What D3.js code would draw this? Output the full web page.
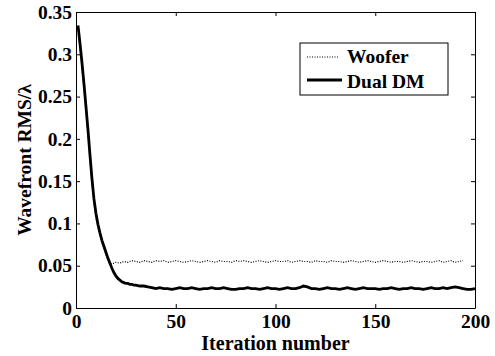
<!DOCTYPE html>
<html>
<head>
<meta charset="utf-8">
<script src="https://cdn.jsdelivr.net/npm/d3@7"></script>
<style>
  body { margin: 0; background: #fff; }
</style>
</head>
<body>
<div id="viz-container"></div>
<script>
const width = 495, height = 356;
const margin = {top: 12, right: 20, bottom: 48, left: 76};
const FONT = "Liberation Serif";

// Axes
const xTicks = [0, 50, 100, 150, 200];
const yTicks = [0, 0.05, 0.1, 0.15, 0.2, 0.25, 0.3, 0.35];

// Dual DM : itérations et valeurs
const dualIter = [1, 2, 3, 4, 5, 6, 7, 8, 9, 10, 11, 12, 13, 14, 15, 16, 17, 18, 19, 20,
  21, 22, 23, 24, 25, 26, 27, 28, 29, 30, 32, 34, 36, 38, 40, 42, 44, 46, 48, 50,
  52, 54, 56, 58, 60, 62, 64, 66, 68, 70, 72, 74, 76, 78, 80, 82, 84, 86, 88, 90,
  92, 94, 96, 98, 100, 102, 104, 106, 108, 110, 112, 114, 116, 118, 120, 122, 124, 126, 128, 130,
  132, 134, 136, 138, 140, 142, 144, 146, 148, 150, 152, 154, 156, 158, 160, 162, 164, 166, 168, 170,
  172, 174, 176, 178, 180, 182, 184, 186, 188, 190, 192, 194, 196, 198, 200];
const dualVal = [0.334, 0.313, 0.290, 0.265, 0.238, 0.211, 0.181, 0.153, 0.129, 0.112,
  0.099, 0.089, 0.080, 0.073, 0.066, 0.059, 0.053, 0.047, 0.042, 0.038,
  0.035, 0.033, 0.031, 0.030, 0.029, 0.029, 0.028, 0.028, 0.027, 0.027,
  0.026, 0.026, 0.025, 0.024, 0.023, 0.024, 0.023, 0.023, 0.022, 0.023,
  0.024, 0.023, 0.023, 0.024, 0.023, 0.022, 0.023, 0.023, 0.024, 0.023,
  0.023, 0.024, 0.023, 0.022, 0.022, 0.023, 0.023, 0.024, 0.023, 0.023,
  0.022, 0.023, 0.024, 0.023, 0.023, 0.022, 0.023, 0.024, 0.023, 0.023,
  0.024, 0.026, 0.025, 0.023, 0.023, 0.022, 0.023, 0.024, 0.023, 0.023,
  0.022, 0.023, 0.024, 0.023, 0.022, 0.023, 0.024, 0.023, 0.023, 0.023,
  0.022, 0.023, 0.023, 0.024, 0.023, 0.022, 0.023, 0.023, 0.024, 0.023,
  0.023, 0.022, 0.023, 0.024, 0.023, 0.023, 0.024, 0.023, 0.024, 0.025,
  0.024, 0.023, 0.022, 0.022, 0.023];

// Woofer : itérations et valeurs
const wooferIter = [1, 2, 3, 4, 5, 6, 7, 8, 9, 10, 11, 12, 13, 14, 15, 16, 17, 18, 20,
  22, 24, 26, 28, 30, 32, 34, 36, 38, 40, 42, 44, 46, 48, 50,
  52, 54, 56, 58, 60, 62, 64, 66, 68, 70, 72, 74, 76, 78, 80, 82, 84, 86, 88, 90,
  92, 94, 96, 98, 100, 102, 104, 106, 108, 110, 112, 114, 116, 118, 120, 122, 124, 126, 128, 130,
  132, 134, 136, 138, 140, 142, 144, 146, 148, 150, 152, 154, 156, 158, 160, 162, 164, 166, 168, 170,
  172, 174, 176, 178, 180, 182, 184, 186, 188, 190, 192, 194, 196, 198, 200];
const wooferVal = [0.332, 0.308, 0.284, 0.259, 0.232, 0.204, 0.175, 0.147, 0.124, 0.107,
  0.095, 0.085, 0.077, 0.070, 0.063, 0.057, 0.053, 0.052, 0.054,
  0.053, 0.055, 0.054, 0.056, 0.055, 0.054, 0.056, 0.055, 0.054, 0.056, 0.055,
  0.056, 0.054, 0.055, 0.056, 0.055, 0.054, 0.055, 0.056, 0.055, 0.054,
  0.055, 0.056, 0.055, 0.054, 0.056, 0.055, 0.055, 0.054, 0.056, 0.055,
  0.056, 0.055, 0.054, 0.055, 0.056, 0.055, 0.054, 0.055, 0.056, 0.055,
  0.055, 0.056, 0.054, 0.055, 0.056, 0.055, 0.055, 0.054, 0.056, 0.055,
  0.055, 0.054, 0.056, 0.055, 0.055, 0.054, 0.055, 0.056, 0.055, 0.054,
  0.055, 0.056, 0.055, 0.054, 0.055, 0.056, 0.055, 0.054, 0.055, 0.055,
  0.054, 0.055, 0.056, 0.055, 0.054, 0.055, 0.055, 0.054, 0.055, 0.056,
  0.054, 0.055, 0.056, 0.054, 0.055, 0.056];

const svg = d3.select("#viz-container")
  .append("svg")
  .attr("width", width)
  .attr("height", height);

const x = d3.scaleLinear()
  .domain([0, 200])
  .range([margin.left, width - margin.right]);

const y = d3.scaleLinear()
  .domain([0, 0.35])
  .range([height - margin.bottom, margin.top]);

const tickFmt = d => d === 0 ? "0" : String(d);

function styleText(sel, size) {
  sel.attr("font-family", FONT)
    .attr("font-weight", "bold")
    .attr("font-size", size)
    .attr("fill", "#000");
}

// Axe bas
const xAxis = svg.append("g")
  .attr("transform", `translate(0,${height - margin.bottom})`)
  .call(d3.axisBottom(x).tickValues(xTicks).tickFormat(tickFmt).tickSizeInner(-4).tickSizeOuter(0).tickPadding(6));
styleText(xAxis.selectAll("text"), 19.5);

// Axe gauche
const yAxis = svg.append("g")
  .attr("transform", `translate(${margin.left},0)`)
  .call(d3.axisLeft(y).tickValues(yTicks).tickFormat(tickFmt).tickSizeInner(-4).tickSizeOuter(0).tickPadding(4));
styleText(yAxis.selectAll("text"), 19.5);

// Axes haut et droite (ticks seulement)
svg.append("g")
  .attr("transform", `translate(0,${margin.top})`)
  .call(d3.axisTop(x).tickValues(xTicks).tickFormat("").tickSizeInner(-4).tickSizeOuter(0));
svg.append("g")
  .attr("transform", `translate(${width - margin.right},0)`)
  .call(d3.axisRight(y).tickValues(yTicks).tickFormat("").tickSizeInner(-4).tickSizeOuter(0));

svg.selectAll(".domain").attr("stroke", "#000");
svg.selectAll(".tick line").attr("stroke", "#000");

// Labels
svg.append("text")
  .attr("x", (margin.left + width - margin.right) / 2)
  .attr("y", 350)
  .attr("text-anchor", "middle")
  .call(styleText, 20)
  .text("Iteration number");
svg.append("text")
  .attr("x", -160)
  .attr("y", 31)
  .attr("transform", "rotate(-90)")
  .attr("text-anchor", "middle")
  .call(styleText, 19.5)
  .text("Wavefront RMS/λ");

// Courbes
const line = d3.line()
  .x(d => x(d[0]))
  .y(d => y(d[1]));

svg.append("path")
  .datum(wooferIter.map((it, i) => [it, wooferVal[i]]))
  .attr("fill", "none")
  .attr("stroke", "#000")
  .attr("stroke-width", 1.2)
  .attr("stroke-dasharray", "1,1.5")
  .attr("d", line);

svg.append("path")
  .datum(dualIter.map((it, i) => [it, dualVal[i]]))
  .attr("fill", "none")
  .attr("stroke", "#000")
  .attr("stroke-width", 2.8)
  .attr("d", line);

// Légende
const legend = svg.append("g").attr("transform", "translate(300,43)");
legend.append("rect")
  .attr("width", 148)
  .attr("height", 52)
  .attr("fill", "#fff")
  .attr("stroke", "#000")
  .attr("stroke-width", 1);
legend.append("line")
  .attr("x1", 7).attr("x2", 39).attr("y1", 14).attr("y2", 14)
  .attr("stroke", "#000").attr("stroke-width", 1.2).attr("stroke-dasharray", "1,1.5");
legend.append("text").attr("x", 47).attr("y", 20).call(styleText, 19.5).text("Woofer");
legend.append("line")
  .attr("x1", 7).attr("x2", 42).attr("y1", 37).attr("y2", 37)
  .attr("stroke", "#000").attr("stroke-width", 2.8);
legend.append("text").attr("x", 47).attr("y", 45).call(styleText, 19.5).text("Dual DM");
</script>
</body>
</html>
